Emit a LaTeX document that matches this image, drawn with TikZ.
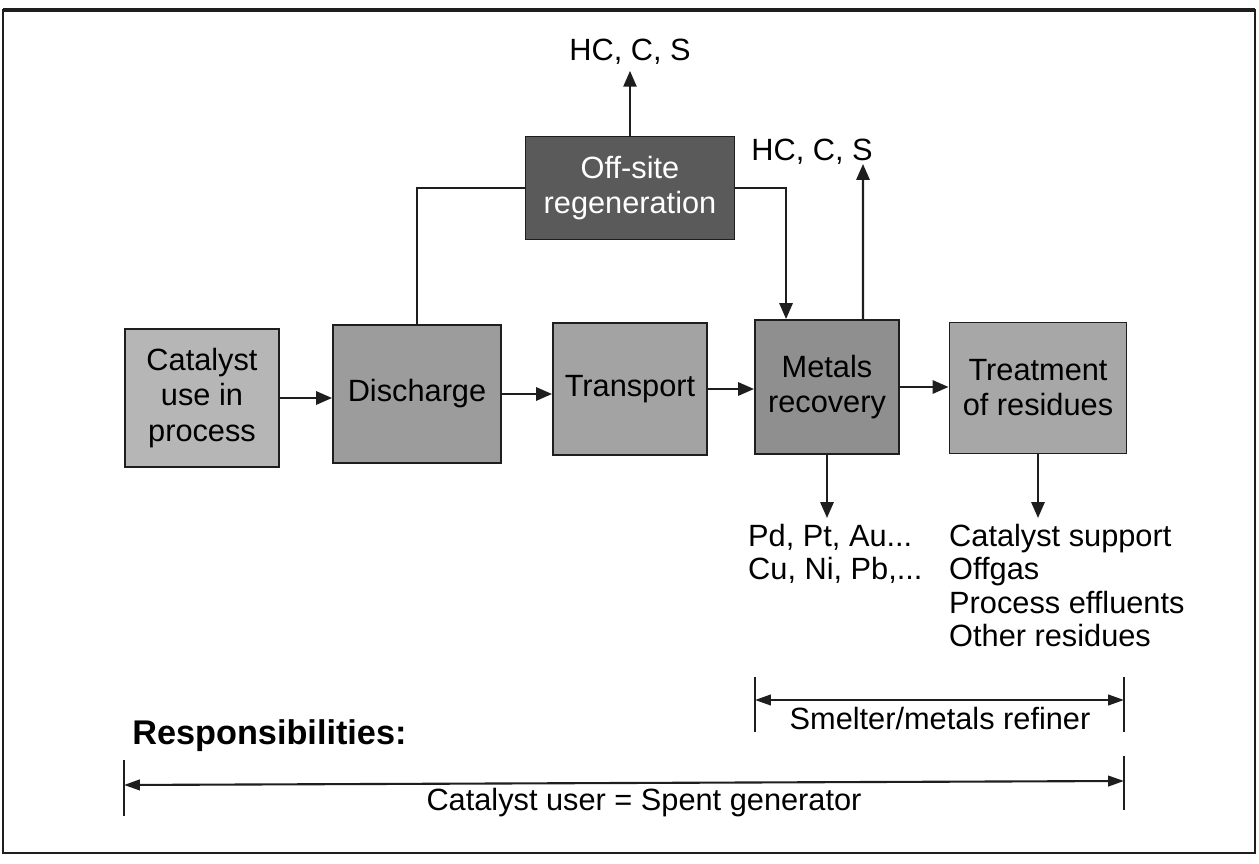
\documentclass[tikz,border=0pt]{standalone}
\usepackage{fontspec}
\setmainfont{Liberation Sans}
\usetikzlibrary{arrows.meta}
\definecolor{usefill}{HTML}{B6B6B6}
\definecolor{dischfill}{HTML}{9C9C9C}
\definecolor{transfill}{HTML}{A3A3A3}
\definecolor{metfill}{HTML}{8F8F8F}
\definecolor{treatfill}{HTML}{A7A7A7}
\definecolor{regenfill}{HTML}{5A5A5A}
\definecolor{lineedge}{HTML}{1E1E1E}

\begin{document}
\begin{tikzpicture}[x=0.02cm, y=-0.02cm,
  stage/.style={rectangle, draw=lineedge, line width=1.1pt, align=center,
                inner sep=0pt, font=\fontsize{17.5}{20}\selectfont},
  lab/.style={align=left, font=\fontsize{17.5}{19}\selectfont},
  flow/.style={draw=lineedge, line width=1.2pt, -{Triangle[length=9pt, width=7.5pt]}},
  link/.style={draw=lineedge, line width=1.2pt},
  span/.style={draw=lineedge, line width=1.2pt, {Triangle[length=9pt, width=6pt]}-{Triangle[length=9pt, width=6pt]}},
]
\useasboundingbox (0,0) rectangle (1259,864);
\draw[lineedge, line width=1.4pt] (3,10) rectangle (1255,853);
\draw[lineedge, line width=2.6pt] (3,10) -- (1255,10);

% process chain
\node[stage, fill=usefill, minimum width=3.08cm, minimum height=2.76cm] (catuse) at (202,398) {Catalyst\\use in\\process};
\node[stage, fill=dischfill, minimum width=3.36cm, minimum height=2.76cm] (discharge) at (417,394) {Discharge};
\node[stage, fill=transfill, minimum width=3.08cm, minimum height=2.64cm] (transport) at (630,389) {Transport};
\node[stage, fill=metfill, minimum width=2.88cm, minimum height=2.68cm] (metals) at (827,387) {Metals\\recovery};
\node[stage, fill=treatfill, minimum width=3.54cm, minimum height=2.62cm] (treatment) at (1038,388) {Treatment\\of residues};
\node[stage, fill=regenfill, text=white, minimum width=4.18cm, minimum height=2.06cm] (offsite) at (630,188) {Off-site\\regeneration};

\draw[flow] (catuse.east) -- (catuse.east -| discharge.west);
\draw[flow] (discharge.east) -- (discharge.east -| transport.west);
\draw[flow] (transport.east) -- (transport.east -| metals.west);
\draw[flow] (metals.east) -- (metals.east -| treatment.west);

% regeneration loop
\draw[link] (discharge.north) |- (offsite.west);
\draw[flow] (offsite.east) -| ([xshift=0.64cm]metals.north west);

% off-gas outputs
\node[lab] (hcsregen) at (630,52) {HC, C, S};
\node[lab] (hcsmetal) at (812,152) {HC, C, S};
\coordinate (metaltip) at (863,164);
\draw[flow] (offsite.north) -- (offsite.north |- hcsregen.south);
\draw[flow] ([xshift=0.72cm]metals.north) -- (metaltip);

% products and residues
\node[lab, anchor=north west] (metout) at (742,518) {Pd, Pt, Au...\\Cu, Ni, Pb,...};
\node[lab, anchor=north west] (residout) at (943,518) {Catalyst support\\Offgas\\Process effluents\\Other residues};
\draw[flow] (metals.south) -- (metals.south |- metout.north);
\draw[flow] (treatment.south) -- (treatment.south |- residout.north);

% responsibilities
\node[font=\fontsize{19.5}{22}\selectfont\bfseries, anchor=base west, inner sep=0pt] (resp) at (132,745) {Responsibilities:};
\coordinate (smtopL) at (755,677);
\coordinate (smbotL) at (755,732);
\coordinate (smtopR) at (1124,677);
\coordinate (smbotR) at (1124,732);
\coordinate (smL) at (755,700);
\coordinate (smR) at (1124,700);
\draw[link] (smtopL) -- (smbotL);
\draw[link] (smtopR) -- (smbotR);
\draw[span] (smL) -- (smR);
\node[lab] (smelter) at (940,719) {Smelter/metals refiner};

\coordinate (ustopL) at (124,760);
\coordinate (usbotL) at (124,816);
\coordinate (ustopR) at (1124,756);
\coordinate (usbotR) at (1124,810);
\coordinate (usL) at (124,785);
\coordinate (usR) at (1124,781);
\draw[link] (ustopL) -- (usbotL);
\draw[link] (ustopR) -- (usbotR);
\draw[span] (usL) -- (usR);
\node[lab] (user) at (644,803) {Catalyst user = Spent generator};
\end{tikzpicture}
\end{document}
